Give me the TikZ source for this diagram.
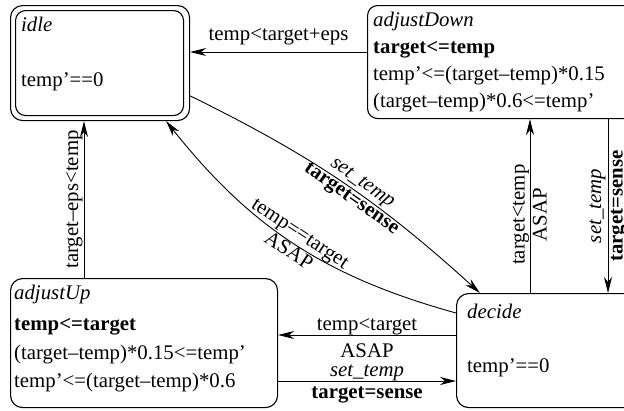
\documentclass[tikz,border=0pt]{standalone}
\usepackage{fontspec}
\setmainfont{Liberation Serif}
\usetikzlibrary{arrows.meta,calc}
\begin{document}
\begin{tikzpicture}[x=1pt,y=-1pt,
  font=\fontsize{20.8}{25}\selectfont,
  state/.style={draw, line width=1.1pt, rounded corners=12pt, anchor=north west, inner sep=0pt},
  txt/.style={anchor=base west, inner sep=0pt},
  conn/.style={line width=0.9pt, -{Stealth[length=16pt,width=8pt,inset=5pt]}},
  connrev/.style={line width=0.9pt, {Stealth[length=16pt,width=8pt,inset=5pt]}-},
  lab/.style={inner sep=0pt, anchor=base},
]
\useasboundingbox (0,0) rectangle (624,410);
\clip (0,0) rectangle (624,410);
% states
\node[state, minimum width=179pt, minimum height=115pt] (idle) at (10,5) {};
\node[state, rounded corners=10pt, minimum width=168pt, minimum height=105pt] (idleIn) at (15,10) {};
\node[state, rounded corners=10pt, minimum width=280pt, minimum height=113pt] (adjDown) at (367,5) {};
\node[state, minimum width=267pt, minimum height=129pt] (adjUp) at (10,278) {};
\node[state, minimum width=200pt, minimum height=114pt] (decide) at (456,293) {};
% texts
\node[txt] (idleName) at (21,31) {\textit{idle}};
\node[txt] (idleInv) at (21,86) {temp’==0};
\node[txt] (adName) at (373,26) {\textit{adjustDown}};
\node[txt] (adInv) at (373,53) {\textbf{target<=temp}};
\node[txt] (adF1) at (373,80) {temp’<=(target–temp)*0.15};
\node[txt] (adF2) at (373,107) {(target–temp)*0.6<=temp’};
\node[txt] (auName) at (14,299) {\textit{adjustUp}};
\node[txt] (auInv) at (14,330) {\textbf{temp<=target}};
\node[txt] (auF1) at (14,359) {(target–temp)*0.15<=temp’};
\node[txt] (auF2) at (14,387) {temp’<=(target–temp)*0.6};
\node[txt] (dName) at (467,318) {\textit{decide}};
\node[txt] (dInv) at (467,372) {temp’==0};
% connectors
\coordinate (h1) at ($(adjDown.north west)+(0,47)$);
\draw[conn] (h1) -- (h1 -| idle.east)
  node[midway, lab, yshift=12pt] {temp<target+eps};
\coordinate (v1) at ($(adjUp.north west)+(74,0)$);
\draw[conn] (v1) -- (v1 |- idle.south)
  node[midway, sloped, above, inner sep=1pt] {target–eps<temp};
\coordinate (v2) at ($(decide.north west)+(74,0)$);
\draw[conn] (v2) -- (v2 |- adjDown.south)
  node[pos=0.45, sloped, above, inner sep=0.5pt] {target<temp}
  node[pos=0.45, sloped, below, inner sep=2.5pt] {ASAP};
\coordinate (v3) at ($(decide.north west)+(152,0)$);
\draw[connrev] (v3) -- (v3 |- adjDown.south)
  node[midway, sloped, above, inner sep=2pt] {\textit{set\_temp}}
  node[midway, sloped, below, inner sep=2.5pt] {\textbf{target=sense}};
\coordinate (h2) at ($(decide.north west)+(0,42)$);
\draw[conn] (h2) -- (h2 -| adjUp.east)
  node[midway, lab, yshift=5pt] {temp<target}
  node[midway, lab, yshift=-22pt] {ASAP};
\coordinate (h3) at ($(adjUp.north east)+(0,103)$);
\draw[conn] (h3) -- (h3 -| decide.west)
  node[midway, lab, yshift=5pt] {\textit{set\_temp}}
  node[midway, lab, yshift=-17pt] {\textbf{target=sense}};
\draw[conn] (idle.-20) to[bend left=8]
  node[pos=0.55, sloped, above, inner sep=1.5pt] {\textit{set\_temp}}
  node[pos=0.55, sloped, below, inner sep=1pt] {\textbf{target=sense}}
  ($(decide.north west)+(24,0)$);
\draw[conn] ($(decide.north west)+(0,20)$) to[bend left=18]
  node[pos=0.5, sloped, above, inner sep=1pt] {temp==target}
  node[pos=0.5, sloped, below, inner sep=1pt] {ASAP}
  ($(idle.south east)+(-24,0)$);
\end{tikzpicture}
\end{document}
